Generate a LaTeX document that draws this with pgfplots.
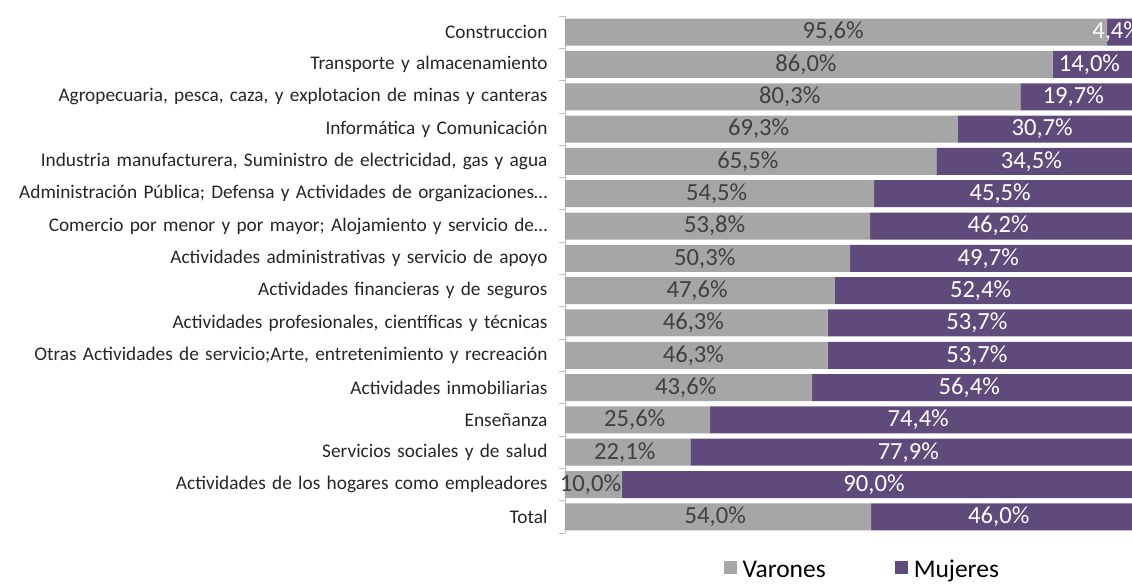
\documentclass[border=0pt]{standalone}
\usepackage{pgfplots}
\pgfplotsset{compat=1.18}
\usepackage{fontspec}
\setmainfont{Carlito}[WordSpace=1.45]
\definecolor{varon}{RGB}{166,166,166}
\definecolor{mujer}{RGB}{96,74,124}
\definecolor{axisgray}{RGB}{190,190,190}

% i = row from bottom (Total) to top (Construccion)
\pgfplotstableread{
i  v     m
0  54.0  46.0
1  10.0  90.0
2  22.1  77.9
3  25.6  74.4
4  43.6  56.4
5  46.3  53.7
6  46.3  53.7
7  47.6  52.4
8  50.3  49.7
9  53.8  46.2
10 54.5  45.5
11 65.5  34.5
12 69.3  30.7
13 80.3  19.7
14 86.0  14.0
15 95.6  4.4
}\datos

\begin{document}
\begin{tikzpicture}
\begin{axis}[
  scale only axis, width=567pt, height=517pt,
  xbar stacked, bar width=27pt,
  xmin=0, xmax=100, ymin=-0.5, ymax=15.5,
  axis y line*=left, hide x axis,
  axis line style={axisgray},
  ytick={0,...,15},
  major tick length=0pt,
  yticklabels={Total,
    Actividades de los hogares como empleadores,
    Servicios sociales y de salud,
    Enseñanza,
    Actividades inmobiliarias,
    {Otras Actividades de servicio;Arte, entretenimiento y recreación},
    {Actividades profesionales, científicas y técnicas},
    Actividades financieras y de seguros,
    Actividades administrativas y servicio de apoyo,
    {Comercio por menor y por mayor; Alojamiento y servicio de…},
    {Administración Pública; Defensa y Actividades de organizaciones…},
    {Industria manufacturera, Suministro de electricidad, gas y agua},
    Informática y Comunicación,
    {Agropecuaria, pesca, caza, y explotacion de minas y canteras},
    Transporte y almacenamiento,
    Construccion},
  yticklabel style={font=\fontsize{19.3}{22}\selectfont, text=black!85, xshift=-14pt},
  extra y ticks={-0.5,0.5,...,15.5},
  extra y tick labels={},
  extra y tick style={major tick length=6pt, tick align=outside, tick style={axisgray, line width=0.8pt}},
  point meta=explicit,
  nodes near coords={\pgfmathprintnumber{\pgfplotspointmeta}\%},
  /pgf/number format/.cd, fixed, fixed zerofill, precision=1, use comma, assume math mode=true,
  /pgfplots/.cd,
  visualization depends on={\pgfplotspointmeta \as \segval},
  every node near coord/.append style={font=\fontsize{24.6}{27}\selectfont, anchor=center, xshift={-\segval*2.835pt}},
  legend style={draw=none, at={(0.526,-0.074)}, anchor=center, legend columns=2,
    font=\fontsize{25.5}{28}\selectfont, inner sep=0pt,
    nodes={inner xsep=3.5pt, inner ysep=0pt, text height=12pt, text depth=5pt},
    /tikz/every odd column/.style={column sep=2pt},
    /tikz/every even column/.style={column sep=66pt}},
  legend image code/.code={\fill[#1,draw=none] (0pt,0pt) rectangle (13pt,13pt);},
]
\addplot[fill=varon, draw=none, nodes near coords style={text=black!75}] table[x=v, y=i, meta=v] {\datos};
\addplot[fill=mujer, draw=none, nodes near coords style={text=white}] table[x=m, y=i, meta=m] {\datos};
\legend{Varones, Mujeres}
\coordinate (sw) at (rel axis cs:0,0);
\coordinate (ne) at (rel axis cs:1,1);
\end{axis}
\pgfresetboundingbox
\path[use as bounding box] ([xshift=-565pt, yshift=-54pt]sw) rectangle ([yshift=16pt]ne);
\end{tikzpicture}
\end{document}
